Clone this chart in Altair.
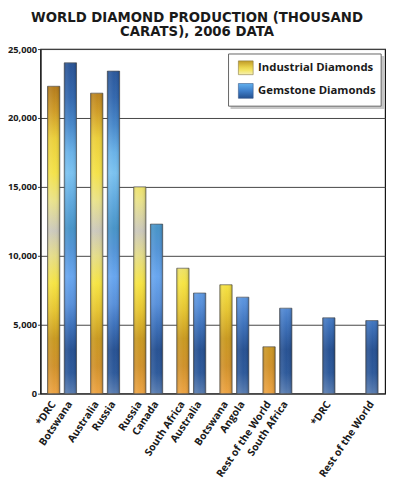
import altair as alt
import pandas as pd

# ---------------- data ----------------
title_lines = ["WORLD DIAMOND PRODUCTION (THOUSAND", "CARATS), 2006 DATA"]
series_names = ["Industrial Diamonds", "Gemstone Diamonds"]
ranks = [1, 2, 3, 4, 5, 6, 7, 8]
industrial_labels = ["*DRC", "Australia", "Russia", "South Africa", "Botswana", "Rest of the World"]
industrial_values = [22300, 21800, 15000, 9100, 7900, 3400]
gemstone_labels = ["Botswana", "Russia", "Canada", "Australia", "Angola", "South Africa", "*DRC", "Rest of the World"]
gemstone_values = [24000, 23400, 12300, 7300, 7000, 6200, 5500, 5300]
y_ticks = [0, 5000, 10000, 15000, 20000, 25000]

rows = []
for i, (lab, val) in enumerate(zip(industrial_labels, industrial_values)):
    rows.append({"rank": ranks[i], "series": series_names[0], "label": lab, "value": val})
for i, (lab, val) in enumerate(zip(gemstone_labels, gemstone_values)):
    rows.append({"rank": ranks[i], "series": series_names[1], "label": lab, "value": val})
df = pd.DataFrame(rows)
df["key"] = df["series"] + "|" + df["rank"].astype(str)

# ---------------- styles ----------------
FONT = "Open Sans"
TITLE_FONT = "DejaVu Sans"
TEXT = "#1a1a1a"

IND_STOPS = [(25000, "#9c6616"), (22500, "#b0771c"), (20500, "#cf9c28"), (18500, "#ebcf3c"),
             (16000, "#f4e24a"), (14000, "#e9e28a"), (11800, "#cbc8bc"), (10000, "#e4dc88"),
             (8000, "#f6e443"), (6000, "#e5c432"), (4000, "#c99a22"), (2000, "#d0922c"),
             (0, "#eda444")]
GEM_STOPS = [(25000, "#27508c"), (23500, "#2b579a"), (21500, "#3468ae"), (19500, "#4888ca"),
             (17500, "#6ab2e8"), (16000, "#7bc2f0"), (14000, "#60a9de"), (12000, "#4894c8"),
             (10500, "#5394d6"), (8500, "#68a6ef"), (6500, "#5890da"), (5000, "#3e72bb"),
             (3200, "#285293"), (1500, "#2e5a9b"), (0, "#5a7eb2")]


def _rgb(h):
    return tuple(int(h[i:i + 2], 16) for i in (1, 3, 5))


def color_at(stops, v):
    for (v1, c1), (v2, c2) in zip(stops, stops[1:]):
        if v2 <= v <= v1:
            t = (v1 - v) / (v1 - v2) if v1 != v2 else 0
            a, b = _rgb(c1), _rgb(c2)
            return "#%02x%02x%02x" % tuple(round(a[k] + (b[k] - a[k]) * t) for k in range(3))
    return stops[-1][1]


def bar_gradient(stops, top):
    st = [alt.GradientStop(offset=0, color=color_at(stops, top))]
    for v, c in stops:
        if v < top:
            st.append(alt.GradientStop(offset=round((top - v) / top, 4), color=c))
    return alt.LinearGradient(gradient="linear", stops=st, x1=0, x2=0, y1=0, y2=1)


X = alt.X("rank:O", scale=alt.Scale(domain=ranks, paddingInner=0, paddingOuter=0), axis=None)
XO = alt.XOffset("series:N", scale=alt.Scale(domain=series_names, paddingInner=0.265, paddingOuter=0.42))
Y = alt.Y("value:Q", title=None,
          scale=alt.Scale(domain=[0, 25000], nice=False),
          axis=alt.Axis(values=y_ticks, format=",.0f", grid=True, gridColor="#444", gridWidth=1,
                        domainColor="#111", tickColor="#444", tickSize=3, labelPadding=1,
                        labelFont=FONT, labelFontSize=9.4, labelFontWeight="bold", labelColor=TEXT))

layers = []
for _, r in df.iterrows():
    stops = IND_STOPS if r["series"] == series_names[0] else GEM_STOPS
    layers.append(
        alt.Chart(df).transform_filter(alt.datum.key == r["key"]).mark_bar(
            fill=bar_gradient(stops, r["value"]), stroke="#555", strokeWidth=0.8, strokeOpacity=0.9
        ).encode(x=X, xOffset=XO, y=Y)
    )

# cylindrical shading overlay
shade = alt.LinearGradient(gradient="linear", x1=0, x2=1, y1=0, y2=0, stops=[
    alt.GradientStop(offset=0, color="rgba(0,0,0,0.22)"),
    alt.GradientStop(offset=0.2, color="rgba(255,255,255,0.08)"),
    alt.GradientStop(offset=0.55, color="rgba(255,255,255,0)"),
    alt.GradientStop(offset=0.85, color="rgba(0,0,0,0.06)"),
    alt.GradientStop(offset=1, color="rgba(0,0,0,0.25)"),
])
layers.append(alt.Chart(df).mark_bar(fill=shade, strokeWidth=0).encode(x=X, xOffset=XO, y=Y))

# category labels
layers.append(
    alt.Chart(df).mark_text(angle=304, align="right", baseline="middle", font=FONT, fontSize=10.5,
                            fontWeight="bold", color=TEXT).encode(
        x=X, xOffset=XO, y=alt.value(359), text="label:N")
)

# custom legend with gradient swatches
one = pd.DataFrame({"k": [0]})
leg_ind = alt.LinearGradient(gradient="linear", x1=0, x2=0, y1=0, y2=1, stops=[
    alt.GradientStop(offset=0, color="#c09a28"), alt.GradientStop(offset=0.45, color="#e8d24c"),
    alt.GradientStop(offset=0.7, color="#f3e66a"), alt.GradientStop(offset=1, color="#f6f0b4")])
leg_gem = alt.LinearGradient(gradient="linear", x1=0, x2=0, y1=0, y2=1, stops=[
    alt.GradientStop(offset=0, color="#62b0ee"), alt.GradientStop(offset=0.5, color="#3f7fca"),
    alt.GradientStop(offset=1, color="#24508f")])
layers += [
    alt.Chart(one).mark_rect(fill="#000", opacity=0.22).encode(
        x=alt.value(193), x2=alt.value(349), y=alt.value(7), y2=alt.value(61)),
    alt.Chart(one).mark_rect(fill="white", stroke="#666", strokeWidth=1).encode(
        x=alt.value(191), x2=alt.value(346), y=alt.value(5), y2=alt.value(58)),
    alt.Chart(one).mark_rect(fill=leg_ind, stroke="#8a7a40", strokeWidth=0.6).encode(
        x=alt.value(201), x2=alt.value(216), y=alt.value(12), y2=alt.value(26)),
    alt.Chart(one).mark_rect(fill=leg_gem, stroke="#3a5a8a", strokeWidth=0.6).encode(
        x=alt.value(201), x2=alt.value(216), y=alt.value(35), y2=alt.value(50)),
    alt.Chart(one).mark_text(align="left", baseline="middle", font=FONT, fontSize=11.5,
                             fontWeight="bold", color=TEXT).encode(
        x=alt.value(221), y=alt.value(19), text=alt.value(series_names[0])),
    alt.Chart(one).mark_text(align="left", baseline="middle", font=FONT, fontSize=11.5,
                             fontWeight="bold", color=TEXT).encode(
        x=alt.value(221), y=alt.value(43), text=alt.value(series_names[1])),
]

chart = alt.layer(*layers).properties(
    width=350, height=350,
    title=alt.TitleParams(text=title_lines, font=TITLE_FONT, fontSize=13.5, fontWeight="bold", color=TEXT,
                          anchor="middle", frame="group", dx=-16, dy=5, offset=0, lineHeight=14,
                          baseline="alphabetic"),
    autosize=alt.AutoSizeParams(type="none"),
    padding={"left": 33, "top": 38, "right": 6, "bottom": 85},
).configure_view(stroke="#111", strokeWidth=1.2)

chart.save("out.html", embed_options={"renderer": "svg", "actions": False})
